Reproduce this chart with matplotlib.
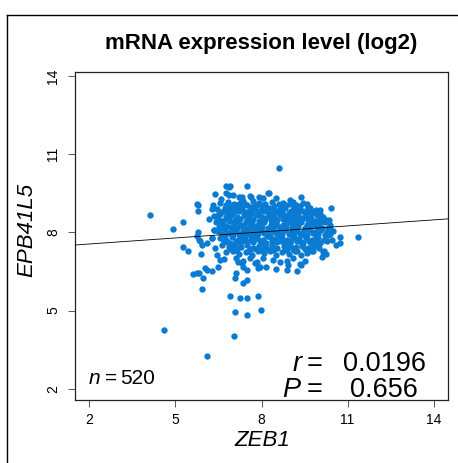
import matplotlib
matplotlib.use("Agg")
import matplotlib.pyplot as plt
from matplotlib.lines import Line2D

plt.rcParams['font.family'] = ['Liberation Sans', 'DejaVu Sans']

# ---------------- data ----------------
title = "mRNA expression level (log2)"
x_label = "ZEB1"
y_label = "EPB41L5"
x_ticks = [2, 5, 8, 11, 14]
y_ticks = [2, 5, 8, 11, 14]
n_text = "520"
r_text = "0.0196"
p_text = "0.656"
fit_intercept = 7.40
fit_slope = 0.077

# dense core of the cloud (ZEB1, EPB41L5)
core_points = [
    (6.88, 9.75), (7.50, 9.79), (6.38, 9.46), (6.88, 9.44), (7.22, 9.37), (8.23, 9.50), (7.90, 9.35),
    (8.50, 9.30), (7.60, 9.40), (6.60, 9.28), (8.05, 9.32), (9.00, 9.25), (7.35, 9.22),
    (6.55, 9.12), (6.82, 9.18), (7.05, 9.10), (7.30, 9.15), (7.48, 9.05), (7.70, 9.20), (7.92, 9.12),
    (8.12, 9.08), (8.35, 9.18), (8.60, 9.10), (8.85, 9.05), (9.10, 9.15), (9.35, 9.02), (9.58, 9.10),
    (6.95, 8.98), (7.62, 8.97), (8.25, 8.95), (8.72, 8.98), (9.25, 8.92), (7.18, 9.00), (8.45, 9.02),
    (9.70, 8.95),
    (6.45, 8.88), (6.68, 8.82), (6.90, 8.90), (7.10, 8.85), (7.32, 8.92), (7.55, 8.83), (7.78, 8.90),
    (7.98, 8.86), (8.18, 8.80), (8.40, 8.88), (8.62, 8.84), (8.82, 8.92), (9.02, 8.82), (9.22, 8.86),
    (9.45, 8.80), (9.62, 8.88), (9.82, 8.78), (10.05, 8.84), (7.00, 8.75), (7.65, 8.74), (8.30, 8.72),
    (8.95, 8.74), (9.55, 8.70),
    (6.35, 8.62), (6.55, 8.70), (6.75, 8.60), (6.95, 8.68), (7.15, 8.58), (7.38, 8.66), (7.58, 8.60),
    (7.80, 8.68), (8.00, 8.58), (8.22, 8.64), (8.45, 8.57), (8.65, 8.66), (8.88, 8.60), (9.08, 8.68),
    (9.30, 8.58), (9.50, 8.64), (9.72, 8.56), (9.92, 8.66), (10.15, 8.60), (7.25, 8.50), (7.90, 8.44),
    (8.55, 8.46), (9.18, 8.50), (9.85, 8.45), (6.65, 8.45),
    (6.40, 8.38), (6.62, 8.32), (6.85, 8.42), (7.05, 8.35), (7.28, 8.30), (7.45, 8.40), (7.68, 8.34),
    (7.88, 8.28), (8.10, 8.38), (8.32, 8.30), (8.52, 8.36), (8.75, 8.30), (8.95, 8.40), (9.15, 8.32),
    (9.38, 8.38), (9.60, 8.30), (9.80, 8.36), (10.00, 8.30), (10.22, 8.38), (10.40, 8.28), (6.95, 8.22),
    (7.60, 8.20), (8.22, 8.18), (8.85, 8.20), (9.50, 8.18), (10.10, 8.16),
    (6.34, 8.10), (6.50, 8.05), (6.72, 8.12), (6.92, 8.02), (7.12, 8.10), (7.35, 8.04), (7.55, 8.12),
    (7.75, 8.00), (7.98, 8.08), (8.18, 8.02), (8.40, 8.10), (8.60, 8.00), (8.82, 8.08), (9.02, 8.02),
    (9.25, 8.10), (9.45, 8.00), (9.68, 8.08), (9.88, 8.02), (10.08, 8.10), (10.30, 8.00), (10.50, 8.06),
    (7.00, 7.90), (7.65, 7.88), (8.30, 7.90), (8.95, 7.92), (9.60, 7.90), (10.20, 7.88),
    (6.26, 7.78), (6.55, 7.80), (6.78, 7.72), (6.98, 7.82), (7.20, 7.75), (7.42, 7.84), (7.62, 7.74),
    (7.85, 7.80), (8.05, 7.72), (8.28, 7.82), (8.48, 7.75), (8.70, 7.80), (8.90, 7.70), (9.12, 7.82),
    (9.32, 7.74), (9.55, 7.80), (9.75, 7.70), (9.98, 7.78), (10.18, 7.72), (6.90, 7.60), (7.50, 7.62),
    (8.15, 7.58), (8.80, 7.60), (9.45, 7.58), (10.05, 7.60),
    (6.62, 7.50), (6.85, 7.45), (7.05, 7.52), (7.28, 7.42), (7.48, 7.50), (7.70, 7.40), (7.92, 7.48),
    (8.12, 7.42), (8.35, 7.50), (8.55, 7.40), (8.78, 7.46), (8.98, 7.52), (9.20, 7.42), (9.42, 7.48),
    (9.62, 7.40), (9.85, 7.46),
    (6.75, 7.25), (7.00, 7.30), (7.20, 7.18), (7.45, 7.26), (7.68, 7.15), (7.88, 7.28), (8.10, 7.20),
    (8.30, 7.30), (8.52, 7.12), (8.72, 7.25), (8.95, 7.18), (9.18, 7.28), (9.38, 7.14), (9.60, 7.22),
    (9.80, 7.30),
    (6.70, 6.98), (7.10, 7.02), (7.35, 6.90), (7.60, 7.00), (7.85, 6.88), (8.05, 7.02), (8.40, 6.95),
    (8.65, 6.85), (8.89, 6.92), (9.10, 7.00), (9.50, 6.90),
    (6.78, 9.06), (7.00, 9.03), (7.22, 9.08), (7.42, 9.10), (7.84, 9.04), (8.02, 9.06), (8.74, 9.12),
    (9.00, 9.08), (9.20, 9.04), (9.45, 9.12),
    (6.58, 8.78), (6.80, 8.76), (7.22, 8.80), (7.42, 8.78), (7.88, 8.76), (8.08, 8.80), (8.52, 8.78),
    (8.72, 8.80), (9.12, 8.76), (9.34, 8.80), (9.72, 8.80), (9.95, 8.74),
    (6.50, 8.52), (6.88, 8.50), (7.08, 8.48), (7.48, 8.52), (7.70, 8.50), (8.12, 8.52), (8.32, 8.48),
    (8.75, 8.50), (8.98, 8.48), (9.40, 8.50), (9.62, 8.48), (10.05, 8.50), (10.25, 8.46),
    (6.52, 8.20), (6.75, 8.24), (7.18, 8.22), (7.40, 8.24), (7.78, 8.20), (8.00, 8.22), (8.42, 8.24),
    (8.62, 8.20), (9.05, 8.22), (9.28, 8.24), (9.70, 8.22), (9.90, 8.24), (10.32, 8.18),
    (6.62, 7.95), (6.82, 7.97), (7.22, 7.95), (7.45, 7.93), (7.88, 7.95), (8.08, 7.97), (8.50, 7.96),
    (8.72, 7.94), (9.15, 7.96), (9.35, 7.94), (9.78, 7.96), (9.98, 7.94), (10.40, 7.95),
    (6.68, 7.66), (7.10, 7.68), (7.32, 7.66), (7.72, 7.68), (7.95, 7.66), (8.38, 7.68), (8.60, 7.66),
    (9.02, 7.68), (9.22, 7.66), (9.65, 7.68), (9.88, 7.66), (10.30, 7.68),
    (6.95, 7.38), (7.15, 7.36), (7.60, 7.38), (7.80, 7.36), (8.22, 7.38), (8.45, 7.36), (8.88, 7.38),
    (9.10, 7.36), (9.52, 7.38), (9.72, 7.36), (10.00, 7.40),
    (6.72, 8.95), (7.28, 8.93), (7.72, 8.97), (8.20, 8.94), (8.68, 8.96), (9.12, 8.93), (9.62, 8.97),
    (6.48, 8.68), (6.90, 8.66), (7.48, 8.70), (7.92, 8.67), (8.35, 8.69), (8.78, 8.66), (9.20, 8.70),
    (9.65, 8.67), (10.05, 8.69),
    (6.58, 8.42), (7.15, 8.44), (7.55, 8.41), (7.98, 8.43), (8.42, 8.40), (8.85, 8.44), (9.28, 8.42),
    (9.70, 8.41), (10.12, 8.43),
    (6.62, 8.15), (7.02, 8.17), (7.45, 8.14), (7.88, 8.16), (8.30, 8.13), (8.72, 8.17), (9.15, 8.15),
    (9.58, 8.14), (10.00, 8.16), (10.40, 8.13),
    (6.72, 7.88), (7.30, 7.86), (7.78, 7.89), (8.20, 7.87), (8.62, 7.88), (9.05, 7.86), (9.48, 7.89),
    (9.90, 7.87), (10.32, 7.88),
    (6.80, 7.62), (7.25, 7.60), (7.70, 7.63), (8.08, 7.61), (8.52, 7.62), (8.95, 7.60), (9.38, 7.63),
    (9.80, 7.61),
    (7.10, 7.32), (7.55, 7.30), (7.98, 7.33), (8.40, 7.31), (8.82, 7.32), (9.25, 7.30), (9.65, 7.33),
]

# scattered points around the core
tail_points = [
    (4.12, 8.67), (4.93, 8.13), (5.28, 8.38), (5.28, 7.45), (5.45, 7.28), (5.88, 7.18), (5.86, 7.65),
    (5.92, 7.52), (6.11, 7.61), (5.80, 8.03), (6.38, 7.39), (6.44, 7.14), (6.55, 6.94), (6.49, 6.67),
    (6.03, 6.63), (6.11, 6.56), (6.26, 6.53), (5.63, 6.41), (5.74, 6.46), (5.83, 6.43), (5.97, 6.24),
    (5.91, 5.82), (5.74, 9.08), (5.80, 9.05), (5.78, 8.82), (6.32, 9.05), (6.26, 8.89), (6.18, 8.51),
    (6.76, 9.50), (6.78, 9.76), (8.61, 10.46), (6.90, 9.78), (8.26, 9.52), (9.39, 9.37), (7.31, 9.37),
    (7.65, 9.35), (6.99, 9.44), (10.43, 8.95), (9.91, 8.86), (9.89, 8.74), (9.74, 8.76), (10.35, 8.48),
    (9.97, 8.41), (9.80, 8.35), (11.36, 7.84), (10.72, 7.84), (10.75, 7.61), (10.61, 7.52),
    (10.44, 7.71), (10.15, 7.26), (10.24, 7.18), (10.12, 7.05), (9.74, 7.59), (9.77, 7.30),
    (7.02, 7.52), (7.07, 7.45), (7.19, 6.88), (7.31, 6.82), (7.36, 6.69), (7.07, 6.24), (7.10, 6.46),
    (7.48, 6.56), (7.48, 6.18), (7.34, 6.05), (7.77, 6.82), (7.94, 6.69), (8.17, 6.69), (8.52, 6.59),
    (8.93, 6.75), (8.89, 6.56), (9.22, 6.53), (9.33, 6.79), (6.90, 5.54), (7.25, 5.48), (7.48, 5.48),
    (7.88, 5.54), (7.07, 4.93), (7.51, 4.84), (7.97, 5.03), (4.61, 4.26), (7.04, 4.04), (6.11, 3.24),
    (6.34, 8.10), (5.74, 7.87), (5.83, 7.69), (6.26, 7.78), (7.88, 6.63), (9.36, 6.75), (10.17, 7.30),
]

zeb1 = [p[0] for p in core_points + tail_points]
epb41l5 = [p[1] for p in core_points + tail_points]

# ---------------- figure ----------------
W, H = 458, 463
fig = plt.figure(figsize=(W / 100, H / 100), dpi=100)

def fx(px):
    return px / W

def fy(py):
    return 1 - py / H

ax = fig.add_axes([fx(75), fy(400), fx(448) - fx(75), fy(72) - fy(400)])
ax.set_xlim(1.5, 14.5)
ax.set_ylim(1.57, 14.15)

ax.scatter(zeb1, epb41l5, s=21, color='#0A7BD2', linewidths=0, zorder=2)

xl = ax.get_xlim()
ax.plot(xl, [fit_intercept + fit_slope * v for v in xl], color='black', lw=0.6, zorder=3)

ax.set_xticks(x_ticks)
ax.set_yticks(y_ticks)
ax.set_xticklabels([str(t) for t in x_ticks], fontsize=10)
ax.set_yticklabels([str(t) for t in y_ticks], fontsize=10, rotation=90, va='center')
ax.tick_params(axis='both', direction='out', length=4.7, width=0.7, color='#555555')
ax.tick_params(axis='x', pad=4.5)
ax.tick_params(axis='y', pad=6)
for sp in ax.spines.values():
    sp.set_linewidth(0.9)
    sp.set_color('#222222')

# title and axis labels
fig.text(fx(261), fy(43), title, fontsize=16, fontweight='bold', ha='center', va='center')
fig.text(fx(262), fy(441), x_label, fontsize=16, style='italic', ha='center', va='center')
fig.text(fx(27), fy(230), y_label, fontsize=16, style='italic', ha='center', va='center', rotation=90)

# annotations
fig.text(fx(89), fy(384), "n", fontsize=15, style='italic', ha='left', va='baseline')
fig.text(fx(105), fy(384), "=", fontsize=15, ha='left', va='baseline')
fig.text(fx(120), fy(384), n_text, fontsize=15, ha='left', va='baseline')

fig.text(fx(302), fy(371), "r", fontsize=19.5, style='italic', ha='right', va='baseline')
fig.text(fx(323), fy(371), "=", fontsize=19.5, ha='right', va='baseline')
fig.text(fx(384), fy(371), r_text, fontsize=19.5, ha='center', va='baseline')
fig.text(fx(300), fy(397), "P", fontsize=19.5, style='italic', ha='right', va='baseline')
fig.text(fx(323), fy(397), "=", fontsize=19.5, ha='right', va='baseline')
fig.text(fx(384), fy(397), p_text, fontsize=19.5, ha='center', va='baseline')

# outer frame (left and top edges visible)
fig.add_artist(Line2D([fx(7), fx(7)], [0, fy(15)], color='black', lw=1.0, transform=fig.transFigure))
fig.add_artist(Line2D([fx(7), 1], [fy(15), fy(15)], color='black', lw=1.0, transform=fig.transFigure))

fig.savefig("out.png", dpi=100)
